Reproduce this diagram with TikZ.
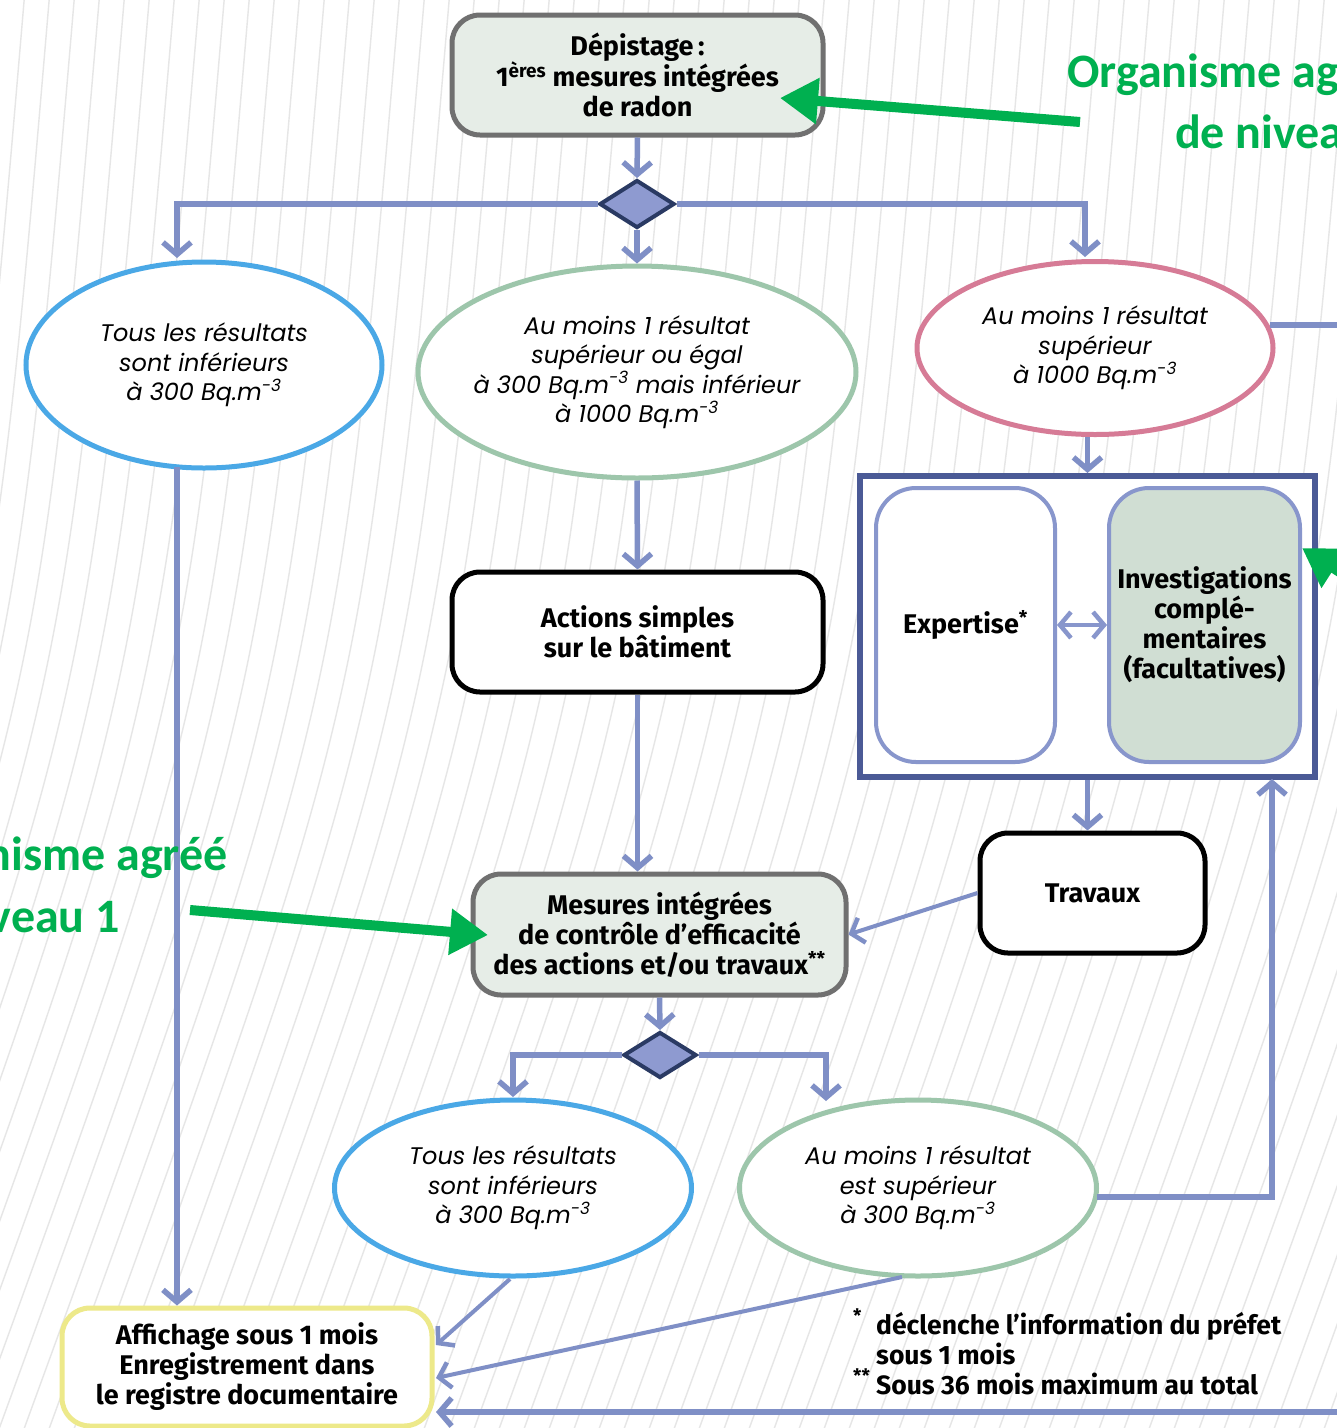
\documentclass[tikz,border=0pt]{standalone}
\usepackage{fontspec}
\setmainfont{Fira Sans}
\newfontfamily\itfont{Poppins}
\newfontfamily\grfont{Carlito}
\usetikzlibrary{arrows.meta,shapes.geometric}
\definecolor{cblue}{HTML}{7F8FC6}
\definecolor{dfill}{HTML}{8E9AD0}
\definecolor{dnavy}{HTML}{2A3A63}
\definecolor{bignavy}{HTML}{4B5A96}
\definecolor{ibord}{HTML}{8896CC}
\definecolor{invfill}{HTML}{D0DED3}
\definecolor{boxfill}{HTML}{E6EDE7}
\definecolor{boxgray}{HTML}{707070}
\definecolor{ogreen}{HTML}{00B050}
\definecolor{eblue}{HTML}{4AA8E6}
\definecolor{egreen}{HTML}{9DC6AB}
\definecolor{epink}{HTML}{D67B96}
\definecolor{eyel}{HTML}{EDE98A}
\definecolor{bgl}{HTML}{E6E6E6}
\tikzset{
  barb/.tip={Straight Barb[length=12pt,width=28pt,line width'=5.5pt]},
  sbarb/.tip={Straight Barb[length=11pt,width=26pt,line width'=4.5pt]},
  conn/.style={draw=cblue, line width=5.5, -barb},
  thinconn/.style={draw=cblue, line width=4, -sbarb},
  rbox/.style={rounded corners=28, line width=5, align=center, inner sep=0,
    font=\bfseries\fontsize{27}{30}\selectfont},
  ell/.style={ellipse, line width=5, fill=white, align=center, inner sep=0,
    font=\itfont\itshape\fontsize{24}{29.5}\selectfont},
  dia/.style={diamond, draw=dnavy, fill=dfill, line width=4, inner sep=0,
    minimum width=75, minimum height=48},
  gtext/.style={font=\grfont\bfseries\fontsize{48}{56}\selectfont, text=ogreen, inner sep=0},
  garrow/.style={draw=ogreen, line width=10, -{Triangle[length=38,width=44]}},
  bgline/.style={draw=bgl, line width=1.4}
}
\begin{document}
\begin{tikzpicture}[x=1pt,y=-1pt]
\useasboundingbox (0,0) rectangle (1337,1428);
\clip (0,0) rectangle (1337,1428);
\fill[white] (0,0) rectangle (1337,1428);
% background hatching
\foreach \x in {-300,-275,...,1700} {
  \draw[bgline] (\x,-10) .. controls (\x-60,700) .. (\x-330,1440);
}
% top box
\node[rbox, draw=boxgray, fill=boxfill, minimum width=371, minimum height=120] (dep) at (637.5,75)
  {Dépistage\,:\\1\textsuperscript{ères} mesures intégrées\\de radon};
\node[dia] (d1) at (637,204) {};
% ellipses row 1
\node[ell, draw=eblue, minimum width=356, minimum height=206] (elA) at (204,365)
  {Tous les résultats\\sont inférieurs\\à 300 Bq.m\textsuperscript{-3}};
\node[ell, draw=egreen, minimum width=438, minimum height=212, inner sep=-30pt] (elB) at (637,372)
  {Au moins 1 résultat\\supérieur ou égal\\à 300 Bq.m\textsuperscript{-3} mais inférieur\\à 1000 Bq.m\textsuperscript{-3}};
\node[ell, draw=epink, minimum width=356, minimum height=173] (elC) at (1095,348)
  {Au moins 1 résultat\\supérieur\\à 1000 Bq.m\textsuperscript{-3}};
% actions
\node[rbox, draw=black, fill=white, minimum width=371, minimum height=120] (act) at (637.5,632)
  {Actions simples\\sur le bâtiment};
% big box
\node[draw=bignavy, line width=6, fill=white, minimum width=455, minimum height=301, inner sep=0] (big) at (1087.5,626.5) {};
\node[rbox, rounded corners=40, draw=ibord, line width=4, fill=white, minimum width=179, minimum height=274] (exp) at (965.5,625)
  {Expertise\textsuperscript{*}};
\node[rbox, rounded corners=40, draw=ibord, line width=4, fill=invfill, minimum width=191, minimum height=274] (inv) at (1204.5,625)
  {Investigations\\complé-\\mentaires\\(facultatives)};
% travaux
\node[rbox, draw=black, fill=white, minimum width=225, minimum height=120] (trav) at (1092.5,893) {Travaux};
% mesures
\node[rbox, draw=boxgray, fill=boxfill, minimum width=373, minimum height=121] (mes) at (659.5,934.5)
  {Mesures intégrées\\de contrôle d’efficacité\\des actions et/ou travaux\textsuperscript{**}};
\node[dia, minimum width=73, minimum height=46] (d2) at (660,1055) {};
% ellipses row 2
\node[ell, draw=eblue, minimum width=357, minimum height=176] (elD) at (513,1188)
  {Tous les résultats\\sont inférieurs\\à 300 Bq.m\textsuperscript{-3}};
\node[ell, draw=egreen, minimum width=357, minimum height=176] (elE) at (918,1188)
  {Au moins 1 résultat\\est supérieur\\à 300 Bq.m\textsuperscript{-3}};
% affichage
\node[rbox, draw=eyel, fill=white, minimum width=370, minimum height=118] (aff) at (247,1367)
  {Affichage sous 1 mois\\Enregistrement dans\\le registre documentaire};
% footnotes
\node[anchor=north west, align=left, inner sep=0, font=\bfseries\fontsize{26.5}{30}\selectfont] (fn) at (853,1309)
  {\makebox[23pt][l]{\raisebox{2pt}{\textsuperscript{*}}}déclenche l’information du préfet\\
   \makebox[23pt][l]{}sous 1 mois\\
   \makebox[23pt][l]{\raisebox{2pt}{\textsuperscript{**}}}Sous 36 mois maximum au total};
% coordinates
\coordinate (a1) at (177,258);
\coordinate (a3) at (1085,257);
\coordinate (b1) at (177,467);
\coordinate (c1) at (513,1097);
\coordinate (c2) at (826,1101);
\coordinate (k1) at (1272,779);
\coordinate (ge) at (1097,1197);
\coordinate (re) at (1270,325);
\coordinate (rc) at (1340,325);
\coordinate (rd) at (1340,1412);
\coordinate (t1) at (436,1345);
\coordinate (t2) at (436,1378);
\coordinate (t3) at (436,1412);
\coordinate (dB) at (510,1279);
\coordinate (eB) at (902,1277);
% connectors
\draw[conn] (dep.south) -- (d1.north);
\draw[conn] (d1.west) -| (a1);
\draw[conn] (d1.south) -- (elB.north);
\draw[conn] (d1.east) -| (a3);
\draw[conn] (b1) -- (aff.north -| b1);
\draw[conn] (elB.south) -- (act.north);
\draw[conn] (act.south) -- (act.south |- mes.north);
\draw[conn] (elC.south -| big.north) -- (big.north);
\draw[draw=ibord, line width=4, sbarb-sbarb] (exp.east) -- (inv.west);
\draw[conn] (big.south) -- (big.south |- trav.north);
\draw[thinconn] (trav.west) -- (mes.east);
\draw[conn] (mes.south) -- (d2.north);
\draw[conn] (d2.west) -| (c1);
\draw[conn] (d2.east) -| (c2);
\draw[conn] (ge) -| (k1);
\draw[thinconn] (dB) -- (t1);
\draw[thinconn] (eB) -- (t2);
\draw[conn] (re) -- (rc) -- (rd) -- (t3);
% green annotations
\node[gtext, anchor=west] (g1) at (1067,75) {Organisme agréé};
\node[gtext, anchor=west] (g2) at (1175,132) {de niveau 1};
\node[gtext, anchor=east] (g3) at (228,858) {Organisme agréé};
\node[gtext, anchor=east] (g4) at (120,916) {de niveau 1};
\coordinate (ga1) at (1080,122);
\coordinate (gt1) at (780,98);
\coordinate (ga2) at (190,910);
\coordinate (gt2) at (488,935);
\coordinate (ga3) at (1360,585);
\coordinate (gt3) at (1302,548);
\draw[garrow] (ga1) -- (gt1);
\draw[garrow] (ga2) -- (gt2);
\draw[garrow] (ga3) -- (gt3);
\end{tikzpicture}
\end{document}
